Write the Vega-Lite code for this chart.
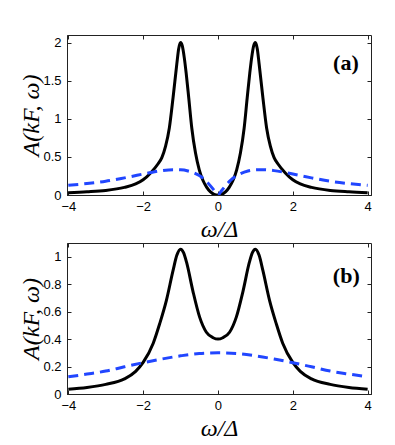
{
  "$schema": "https://vega.github.io/schema/vega-lite/v6.json",
  "padding": {"left": 19, "top": 34, "right": 5, "bottom": 5},
  "background": "white",
  "datasets": {
    "curves": [
      {"p": "a", "s": "solid", "w": -4.0, "A": 0.03},
      {"p": "a", "s": "solid", "w": -3.5, "A": 0.042},
      {"p": "a", "s": "solid", "w": -3.0, "A": 0.06},
      {"p": "a", "s": "solid", "w": -2.5, "A": 0.10},
      {"p": "a", "s": "solid", "w": -2.2, "A": 0.145},
      {"p": "a", "s": "solid", "w": -2.0, "A": 0.20},
      {"p": "a", "s": "solid", "w": -1.8, "A": 0.29},
      {"p": "a", "s": "solid", "w": -1.6, "A": 0.41},
      {"p": "a", "s": "solid", "w": -1.5, "A": 0.49},
      {"p": "a", "s": "solid", "w": -1.4, "A": 0.64},
      {"p": "a", "s": "solid", "w": -1.3, "A": 0.88},
      {"p": "a", "s": "solid", "w": -1.2, "A": 1.28},
      {"p": "a", "s": "solid", "w": -1.1, "A": 1.72},
      {"p": "a", "s": "solid", "w": -1.05, "A": 1.92},
      {"p": "a", "s": "solid", "w": -1.0, "A": 2.0},
      {"p": "a", "s": "solid", "w": -0.95, "A": 1.95},
      {"p": "a", "s": "solid", "w": -0.9, "A": 1.80},
      {"p": "a", "s": "solid", "w": -0.85, "A": 1.60},
      {"p": "a", "s": "solid", "w": -0.78, "A": 1.27},
      {"p": "a", "s": "solid", "w": -0.7, "A": 0.88},
      {"p": "a", "s": "solid", "w": -0.6, "A": 0.55},
      {"p": "a", "s": "solid", "w": -0.5, "A": 0.33},
      {"p": "a", "s": "solid", "w": -0.4, "A": 0.19},
      {"p": "a", "s": "solid", "w": -0.3, "A": 0.10},
      {"p": "a", "s": "solid", "w": -0.2, "A": 0.04},
      {"p": "a", "s": "solid", "w": -0.1, "A": 0.008},
      {"p": "a", "s": "solid", "w": 0.0, "A": 0.0},
      {"p": "a", "s": "solid", "w": 0.1, "A": 0.008},
      {"p": "a", "s": "solid", "w": 0.2, "A": 0.04},
      {"p": "a", "s": "solid", "w": 0.3, "A": 0.10},
      {"p": "a", "s": "solid", "w": 0.4, "A": 0.19},
      {"p": "a", "s": "solid", "w": 0.5, "A": 0.33},
      {"p": "a", "s": "solid", "w": 0.6, "A": 0.55},
      {"p": "a", "s": "solid", "w": 0.7, "A": 0.88},
      {"p": "a", "s": "solid", "w": 0.78, "A": 1.27},
      {"p": "a", "s": "solid", "w": 0.85, "A": 1.60},
      {"p": "a", "s": "solid", "w": 0.9, "A": 1.80},
      {"p": "a", "s": "solid", "w": 0.95, "A": 1.95},
      {"p": "a", "s": "solid", "w": 1.0, "A": 2.0},
      {"p": "a", "s": "solid", "w": 1.05, "A": 1.92},
      {"p": "a", "s": "solid", "w": 1.1, "A": 1.72},
      {"p": "a", "s": "solid", "w": 1.2, "A": 1.28},
      {"p": "a", "s": "solid", "w": 1.3, "A": 0.88},
      {"p": "a", "s": "solid", "w": 1.4, "A": 0.64},
      {"p": "a", "s": "solid", "w": 1.5, "A": 0.49},
      {"p": "a", "s": "solid", "w": 1.6, "A": 0.41},
      {"p": "a", "s": "solid", "w": 1.8, "A": 0.29},
      {"p": "a", "s": "solid", "w": 2.0, "A": 0.20},
      {"p": "a", "s": "solid", "w": 2.2, "A": 0.145},
      {"p": "a", "s": "solid", "w": 2.5, "A": 0.10},
      {"p": "a", "s": "solid", "w": 3.0, "A": 0.06},
      {"p": "a", "s": "solid", "w": 3.5, "A": 0.042},
      {"p": "a", "s": "solid", "w": 4.0, "A": 0.03},

      {"p": "a", "s": "dashed", "w": -4.0, "A": 0.128},
      {"p": "a", "s": "dashed", "w": -3.5, "A": 0.15},
      {"p": "a", "s": "dashed", "w": -3.0, "A": 0.18},
      {"p": "a", "s": "dashed", "w": -2.5, "A": 0.225},
      {"p": "a", "s": "dashed", "w": -2.0, "A": 0.275},
      {"p": "a", "s": "dashed", "w": -1.8, "A": 0.295},
      {"p": "a", "s": "dashed", "w": -1.5, "A": 0.32},
      {"p": "a", "s": "dashed", "w": -1.2, "A": 0.332},
      {"p": "a", "s": "dashed", "w": -1.0, "A": 0.33},
      {"p": "a", "s": "dashed", "w": -0.8, "A": 0.315},
      {"p": "a", "s": "dashed", "w": -0.6, "A": 0.28},
      {"p": "a", "s": "dashed", "w": -0.5, "A": 0.255},
      {"p": "a", "s": "dashed", "w": -0.4, "A": 0.22},
      {"p": "a", "s": "dashed", "w": -0.3, "A": 0.175},
      {"p": "a", "s": "dashed", "w": -0.2, "A": 0.12},
      {"p": "a", "s": "dashed", "w": -0.1, "A": 0.06},
      {"p": "a", "s": "dashed", "w": 0.0, "A": 0.0},
      {"p": "a", "s": "dashed", "w": 0.1, "A": 0.06},
      {"p": "a", "s": "dashed", "w": 0.2, "A": 0.12},
      {"p": "a", "s": "dashed", "w": 0.3, "A": 0.175},
      {"p": "a", "s": "dashed", "w": 0.4, "A": 0.22},
      {"p": "a", "s": "dashed", "w": 0.5, "A": 0.255},
      {"p": "a", "s": "dashed", "w": 0.6, "A": 0.28},
      {"p": "a", "s": "dashed", "w": 0.8, "A": 0.315},
      {"p": "a", "s": "dashed", "w": 1.0, "A": 0.33},
      {"p": "a", "s": "dashed", "w": 1.2, "A": 0.332},
      {"p": "a", "s": "dashed", "w": 1.5, "A": 0.32},
      {"p": "a", "s": "dashed", "w": 1.8, "A": 0.295},
      {"p": "a", "s": "dashed", "w": 2.0, "A": 0.275},
      {"p": "a", "s": "dashed", "w": 2.5, "A": 0.225},
      {"p": "a", "s": "dashed", "w": 3.0, "A": 0.18},
      {"p": "a", "s": "dashed", "w": 3.5, "A": 0.15},
      {"p": "a", "s": "dashed", "w": 4.0, "A": 0.128},

      {"p": "b", "s": "solid", "w": -4.0, "A": 0.035},
      {"p": "b", "s": "solid", "w": -3.5, "A": 0.048},
      {"p": "b", "s": "solid", "w": -3.0, "A": 0.07},
      {"p": "b", "s": "solid", "w": -2.5, "A": 0.11},
      {"p": "b", "s": "solid", "w": -2.2, "A": 0.165},
      {"p": "b", "s": "solid", "w": -2.0, "A": 0.23},
      {"p": "b", "s": "solid", "w": -1.73, "A": 0.37},
      {"p": "b", "s": "solid", "w": -1.56, "A": 0.51},
      {"p": "b", "s": "solid", "w": -1.38, "A": 0.68},
      {"p": "b", "s": "solid", "w": -1.2, "A": 0.90},
      {"p": "b", "s": "solid", "w": -1.1, "A": 1.01},
      {"p": "b", "s": "solid", "w": -1.0, "A": 1.055},
      {"p": "b", "s": "solid", "w": -0.92, "A": 1.03},
      {"p": "b", "s": "solid", "w": -0.84, "A": 0.96},
      {"p": "b", "s": "solid", "w": -0.67, "A": 0.75},
      {"p": "b", "s": "solid", "w": -0.49, "A": 0.56},
      {"p": "b", "s": "solid", "w": -0.31, "A": 0.45},
      {"p": "b", "s": "solid", "w": -0.13, "A": 0.41},
      {"p": "b", "s": "solid", "w": 0.0, "A": 0.40},
      {"p": "b", "s": "solid", "w": 0.13, "A": 0.41},
      {"p": "b", "s": "solid", "w": 0.31, "A": 0.45},
      {"p": "b", "s": "solid", "w": 0.49, "A": 0.56},
      {"p": "b", "s": "solid", "w": 0.67, "A": 0.75},
      {"p": "b", "s": "solid", "w": 0.84, "A": 0.96},
      {"p": "b", "s": "solid", "w": 0.92, "A": 1.03},
      {"p": "b", "s": "solid", "w": 1.0, "A": 1.055},
      {"p": "b", "s": "solid", "w": 1.1, "A": 1.01},
      {"p": "b", "s": "solid", "w": 1.2, "A": 0.90},
      {"p": "b", "s": "solid", "w": 1.38, "A": 0.68},
      {"p": "b", "s": "solid", "w": 1.56, "A": 0.51},
      {"p": "b", "s": "solid", "w": 1.73, "A": 0.37},
      {"p": "b", "s": "solid", "w": 2.0, "A": 0.23},
      {"p": "b", "s": "solid", "w": 2.2, "A": 0.165},
      {"p": "b", "s": "solid", "w": 2.5, "A": 0.11},
      {"p": "b", "s": "solid", "w": 3.0, "A": 0.07},
      {"p": "b", "s": "solid", "w": 3.5, "A": 0.048},
      {"p": "b", "s": "solid", "w": 4.0, "A": 0.035},

      {"p": "b", "s": "dashed", "w": -4.0, "A": 0.125},
      {"p": "b", "s": "dashed", "w": -3.5, "A": 0.145},
      {"p": "b", "s": "dashed", "w": -3.0, "A": 0.167},
      {"p": "b", "s": "dashed", "w": -2.5, "A": 0.198},
      {"p": "b", "s": "dashed", "w": -2.0, "A": 0.228},
      {"p": "b", "s": "dashed", "w": -1.5, "A": 0.255},
      {"p": "b", "s": "dashed", "w": -1.0, "A": 0.278},
      {"p": "b", "s": "dashed", "w": -0.5, "A": 0.295},
      {"p": "b", "s": "dashed", "w": 0.0, "A": 0.30},
      {"p": "b", "s": "dashed", "w": 0.5, "A": 0.295},
      {"p": "b", "s": "dashed", "w": 1.0, "A": 0.278},
      {"p": "b", "s": "dashed", "w": 1.5, "A": 0.255},
      {"p": "b", "s": "dashed", "w": 2.0, "A": 0.228},
      {"p": "b", "s": "dashed", "w": 2.5, "A": 0.198},
      {"p": "b", "s": "dashed", "w": 3.0, "A": 0.167},
      {"p": "b", "s": "dashed", "w": 3.5, "A": 0.145},
      {"p": "b", "s": "dashed", "w": 4.0, "A": 0.125}
    ],
    "labels": [
      {"p": "a", "t": "(a)"},
      {"p": "b", "t": "(b)"}
    ]
  },
  "vconcat": [
    {
      "width": 304,
      "height": 160,
      "layer": [
        {
          "data": {"name": "curves"},
          "transform": [{"filter": "datum.p === 'a' && datum.s === 'solid'"}],
          "mark": {"type": "line", "color": "black", "strokeWidth": 3, "interpolate": "monotone", "clip": true},
          "encoding": {
            "x": {"field": "w", "type": "quantitative", "scale": {"domain": [-4.035, 4.09], "nice": false, "zero": false},
                  "axis": {"orient": "bottom", "values": [-4, -2, 0, 2, 4], "title": "ω/Δ"}},
            "y": {"field": "A", "type": "quantitative", "scale": {"domain": [0, 2.1], "nice": false},
                  "axis": {"orient": "left", "values": [0, 0.5, 1, 1.5, 2], "format": "~g", "title": "A(kF, ω)"}}
          }
        },
        {
          "data": {"name": "curves"},
          "transform": [{"filter": "datum.p === 'a' && datum.s === 'dashed'"}],
          "mark": {"type": "line", "color": "#2146ff", "strokeWidth": 3, "strokeDash": [10, 6], "interpolate": "monotone", "clip": true},
          "encoding": {
            "x": {"field": "w", "type": "quantitative",
                  "axis": {"orient": "top", "values": [-4, -2, 0, 2, 4], "labels": false, "title": null, "domain": false}},
            "y": {"field": "A", "type": "quantitative",
                  "axis": {"orient": "right", "values": [0, 0.5, 1, 1.5, 2], "labels": false, "title": null, "domain": false}}
          }
        },
        {
          "data": {"name": "labels"},
          "transform": [{"filter": "datum.p === 'a'"}],
          "mark": {"type": "text", "font": "Liberation Serif", "fontWeight": "bold", "fontSize": 22, "color": "black", "align": "center", "baseline": "middle"},
          "encoding": {
            "x": {"datum": 3.42, "type": "quantitative", "axis": null},
            "y": {"datum": 1.73, "type": "quantitative", "axis": null},
            "text": {"field": "t"}
          }
        }
      ],
      "resolve": {"axis": {"x": "independent", "y": "independent"}}
    },
    {
      "width": 304,
      "height": 151,
      "layer": [
        {
          "data": {"name": "curves"},
          "transform": [{"filter": "datum.p === 'b' && datum.s === 'solid'"}],
          "mark": {"type": "line", "color": "black", "strokeWidth": 3, "interpolate": "monotone", "clip": true},
          "encoding": {
            "x": {"field": "w", "type": "quantitative", "scale": {"domain": [-4.035, 4.09], "nice": false, "zero": false},
                  "axis": {"orient": "bottom", "values": [-4, -2, 0, 2, 4], "title": "ω/Δ"}},
            "y": {"field": "A", "type": "quantitative", "scale": {"domain": [0, 1.1], "nice": false},
                  "axis": {"orient": "left", "values": [0, 0.2, 0.4, 0.6, 0.8, 1], "format": "~g", "title": "A(kF, ω)"}}
          }
        },
        {
          "data": {"name": "curves"},
          "transform": [{"filter": "datum.p === 'b' && datum.s === 'dashed'"}],
          "mark": {"type": "line", "color": "#2146ff", "strokeWidth": 3, "strokeDash": [10, 6], "interpolate": "monotone", "clip": true},
          "encoding": {
            "x": {"field": "w", "type": "quantitative",
                  "axis": {"orient": "top", "values": [-4, -2, 0, 2, 4], "labels": false, "title": null, "domain": false}},
            "y": {"field": "A", "type": "quantitative",
                  "axis": {"orient": "right", "values": [0, 0.2, 0.4, 0.6, 0.8, 1], "labels": false, "title": null, "domain": false}}
          }
        },
        {
          "data": {"name": "labels"},
          "transform": [{"filter": "datum.p === 'b'"}],
          "mark": {"type": "text", "font": "Liberation Serif", "fontWeight": "bold", "fontSize": 22, "color": "black", "align": "center", "baseline": "middle"},
          "encoding": {
            "x": {"datum": 3.43, "type": "quantitative", "axis": null},
            "y": {"datum": 0.86, "type": "quantitative", "axis": null},
            "text": {"field": "t"}
          }
        }
      ],
      "resolve": {"axis": {"x": "independent", "y": "independent"}}
    }
  ],
  "spacing": 48,
  "bounds": "flush",
  "config": {
    "view": {"stroke": "#222", "strokeWidth": 1},
    "axis": {
      "grid": false,
      "domainColor": "#222",
      "tickColor": "#222",
      "tickSize": -4,
      "labelPadding": 9,
      "labelFont": "Liberation Sans",
      "labelFontSize": 13,
      "labelColor": "black",
      "titleFont": "Liberation Serif",
      "titleFontStyle": "italic",
      "titleFontWeight": "normal",
      "titleFontSize": 24,
      "titleColor": "black",
      "titlePadding": 4
    },
    "axisY": {"labelPadding": 10, "titlePadding": -1}
  }
}
